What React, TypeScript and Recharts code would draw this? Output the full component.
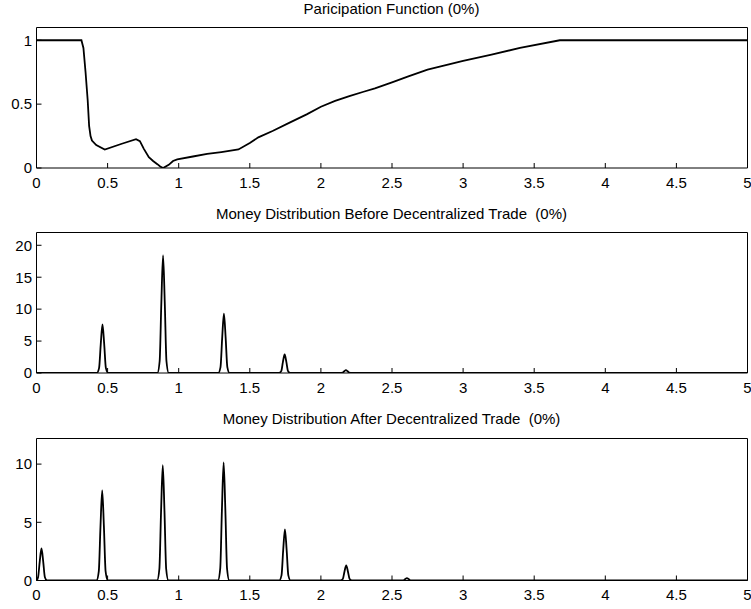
import React from "react";
import { LineChart, Line, XAxis, YAxis } from "recharts";

const FONT = '"Liberation Sans", Arial, Helvetica, sans-serif';

// x axis ticks shared by all three panels
const xTicks = [0, 0.5, 1, 1.5, 2, 2.5, 3, 3.5, 4, 4.5, 5];

// participation function [x, share]
const participation: [number, number][] = [
  [0, 1], [0.316, 1], [0.33, 0.94], [0.345, 0.75], [0.36, 0.53], [0.37, 0.33],
  [0.38, 0.25], [0.39, 0.215], [0.42, 0.18], [0.48, 0.145], [0.6, 0.19],
  [0.7, 0.226], [0.727, 0.21], [0.755, 0.15], [0.79, 0.085], [0.82, 0.055],
  [0.85, 0.03], [0.87, 0.012], [0.89, 0], [0.93, 0.025], [0.96, 0.055],
  [0.99, 0.067], [1.1, 0.09], [1.2, 0.11], [1.3, 0.125], [1.42, 0.145],
  [1.5, 0.195], [1.56, 0.24], [1.66, 0.29], [1.78, 0.355], [1.9, 0.42],
  [2.0, 0.48], [2.1, 0.525], [2.2, 0.562], [2.3, 0.597], [2.38, 0.624],
  [2.5, 0.67], [2.61, 0.715], [2.75, 0.77], [2.9, 0.812], [3.0, 0.838],
  [3.2, 0.888], [3.4, 0.94], [3.68, 1], [5, 1],
];

// money distribution before decentralized trade [x, density]
const before: [number, number][] = [
  [0, 0],
  [0.424, 0], [0.44, 0.76], [0.452, 4.56], [0.464, 7.6], [0.476, 4.56], [0.488, 0.76], [0.504, 0],
  [0.85, 0], [0.866, 1.84], [0.878, 11.04], [0.89, 18.4], [0.902, 11.04], [0.914, 1.84], [0.93, 0],
  [1.278, 0], [1.294, 0.93], [1.306, 5.58], [1.318, 9.3], [1.33, 5.58], [1.342, 0.93], [1.358, 0],
  [1.705, 0], [1.721, 0.29], [1.733, 1.74], [1.745, 2.9], [1.757, 1.74], [1.769, 0.29], [1.785, 0],
  [2.136, 0], [2.152, 0.05], [2.164, 0.27], [2.176, 0.45], [2.188, 0.27], [2.2, 0.05], [2.216, 0],
  [5, 0],
];

// money distribution after decentralized trade [x, density]
const after: [number, number][] = [
  [0, 0], [0.011, 0.28], [0.023, 1.65], [0.035, 2.75], [0.047, 1.65], [0.059, 0.28], [0.075, 0],
  [0.422, 0], [0.438, 0.78], [0.45, 4.65], [0.462, 7.75], [0.474, 4.65], [0.486, 0.78], [0.502, 0],
  [0.848, 0], [0.864, 0.99], [0.876, 5.94], [0.888, 9.9], [0.9, 5.94], [0.912, 0.99], [0.928, 0],
  [1.276, 0], [1.292, 1.02], [1.304, 6.09], [1.316, 10.15], [1.328, 6.09], [1.34, 1.02], [1.356, 0],
  [1.707, 0], [1.723, 0.44], [1.735, 2.64], [1.747, 4.4], [1.759, 2.64], [1.771, 0.44], [1.787, 0],
  [2.138, 0], [2.154, 0.13], [2.166, 0.78], [2.178, 1.3], [2.19, 0.78], [2.202, 0.13], [2.218, 0],
  [2.565, 0], [2.581, 0.02], [2.593, 0.12], [2.605, 0.2], [2.617, 0.12], [2.629, 0.02], [2.645, 0],
  [5, 0],
];

const toRows = (pts: [number, number][]) => pts.map(([x, y]) => ({ x, y }));

const tickFont = { fontSize: 15, fill: "#000", fontFamily: FONT };
const black = { stroke: "#000", strokeWidth: 1 };

function Panel({ pts, top, height, plotTop, axisH, yMax, yTicks, title, titleTop, curve }: any) {
  const domain = [0, yMax];
  return (
    <>
      <div
        style={{
          position: "absolute", left: 36, width: 711, top: titleTop, textAlign: "center",
          fontFamily: FONT, fontSize: 15, lineHeight: "17px", color: "#000", whiteSpace: "pre",
        }}
      >
        {title}
      </div>
      <div style={{ position: "absolute", left: 0, top }}>
        <LineChart width={751} height={height} data={toRows(pts)}
          margin={{ top: plotTop - 1, right: 2.5, bottom: 0, left: 0 }}>
          <XAxis xAxisId="b" type="number" dataKey="x" domain={[0, 5]} ticks={xTicks}
            allowDataOverflow interval={0} height={axisH} tickSize={-5} tickMargin={14}
            tick={tickFont} axisLine={black} tickLine={black} />
          <XAxis xAxisId="t" orientation="top" type="number" dataKey="x" domain={[0, 5]}
            ticks={xTicks} allowDataOverflow interval={0} height={1} tickSize={-5}
            tick={false} axisLine={black} tickLine={black} />
          <YAxis yAxisId="l" type="number" domain={domain} ticks={yTicks} allowDataOverflow
            interval={0} width={36.5} tickSize={-5} tickMargin={9.5} tick={tickFont}
            axisLine={black} tickLine={black} />
          <YAxis yAxisId="r" orientation="right" type="number" domain={domain} ticks={yTicks}
            allowDataOverflow interval={0} width={1} tickSize={-5} tick={false}
            axisLine={black} tickLine={black} />
          <Line xAxisId="b" yAxisId="l" dataKey="y" type={curve} stroke="#000"
            strokeWidth={1.8} dot={false} activeDot={false} isAnimationActive={false} />
        </LineChart>
      </div>
    </>
  );
}

export default function App() {
  return (
    <div style={{ position: "absolute", left: 0, top: 0, width: 751, height: 609, background: "#fff" }}>
      <Panel pts={participation} top={0} height={205} plotTop={27.5} axisH={37}
        yMax={1.1} yTicks={[0, 0.5, 1]} title="Paricipation Function (0%)" titleTop={0}
        curve="linear" />
      <Panel pts={before} top={205} height={205} plotTop={27.5} axisH={37}
        yMax={22} yTicks={[0, 5, 10, 15, 20]}
        title="Money Distribution Before Decentralized Trade  (0%)" titleTop={205}
        curve="monotone" />
      <Panel pts={after} top={410} height={199} plotTop={28.5} axisH={28.5}
        yMax={12.2} yTicks={[0, 5, 10]}
        title="Money Distribution After Decentralized Trade  (0%)" titleTop={410}
        curve="monotone" />
    </div>
  );
}
